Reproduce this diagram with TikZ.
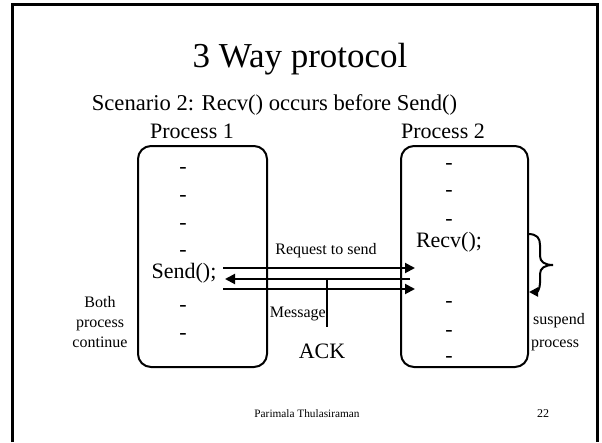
\documentclass[tikz,border=0pt]{standalone}
\usepackage{fontspec}
\setmainfont{Liberation Serif}
\usetikzlibrary{arrows.meta}
\begin{document}
\begin{tikzpicture}[x=1pt,y=-1pt,
  big/.style={inner sep=0pt, font=\fontsize{22}{26}\selectfont},
  dsh/.style={inner sep=0pt, anchor=base, font=\fontsize{22}{26}\selectfont},
  small/.style={inner sep=0pt, anchor=base, font=\fontsize{16}{20}\selectfont},
  proc/.style={draw, line width=2pt, rounded corners=13pt, inner sep=0pt},
  msg/.style={line width=2pt, -{Triangle[length=10pt,width=10pt]}},
  plain/.style={line width=2pt},
]
\useasboundingbox (0,0) rectangle (602,442);
% frame
\draw[line width=3pt] (12,442) -- (12,4) -- (597,4) -- (597,442);

% titles
\node[inner sep=0pt, anchor=base, font=\fontsize{35}{40}\selectfont] (title) at (300,67) {3 Way protocol};
\node[inner sep=0pt, anchor=base, font=\fontsize{22.6}{26}\selectfont] (scen) at (274.5,110) {Scenario 2: Recv() occurs before Send()};
\node[big, anchor=base] (h1) at (192,138) {Process 1};
\node[big, anchor=base] (h2) at (443,138) {Process 2};

% process boxes
\node[proc, minimum width=129pt, minimum height=221pt] (p1) at (202.5,256.5) {};
\node[proc, minimum width=127pt, minimum height=221pt] (p2) at (464.5,256.5) {};

% process 1 contents
\node[dsh] (a1) at (183,173) {-};
\node[dsh] (a2) at (183,201) {-};
\node[dsh] (a3) at (183,229) {-};
\node[dsh] (a4) at (183,256) {-};
\node[big] (send) at (184,273) {Send();};
\node[dsh] (a5) at (183,311) {-};
\node[dsh] (a6) at (183,339) {-};

% process 2 contents
\node[dsh] (b1) at (449,169) {-};
\node[dsh] (b2) at (449,196) {-};
\node[dsh] (b3) at (449,225) {-};
\node[big] (recv) at (449,242) {Recv();};
\node[dsh] (b4) at (449,307) {-};
\node[dsh] (b5) at (449,336) {-};
\node[dsh] (b6) at (449,362) {-};

% messages
\coordinate (s1) at (223,268);
\coordinate (r1) at (415,268);
\coordinate (r2) at (410,279);
\coordinate (s2) at (225,279);
\coordinate (s3) at (223,289);
\coordinate (r3) at (415,289);
\draw[msg] (s1) -- (r1);
\draw[msg] (r2) -- (s2);
\draw[msg] (s3) -- (r3);
\coordinate (ackTop) at (327,279);
\coordinate (ackBot) at (327,327);
\draw[plain] (ackTop) -- (ackBot);

\node[small] (req) at (326,254) {Request to send};
\node[small, anchor=base east] (mess) at (326,317) {Message};
\node[big, anchor=base] (ack) at (322,358) {ACK};

% brace with arrow
\coordinate (bt) at (528,234);
\coordinate (bb) at (529,292);
\draw[line width=2pt, -{Triangle[length=9pt,width=9pt]}] (bt) .. controls (537,234) and (540,238) .. (540,245) -- (540,256) .. controls (540,262) and (545,265) .. (553,265) .. controls (545,265) and (540,268) .. (540,274) -- (540,283) .. controls (540,289) and (537,292) .. (bb);

\node[small] (susp) at (559,324) {suspend};
\node[small] (susp2) at (555,347) {process};

\node[small] (both) at (100,307) {Both};
\node[small] (both2) at (100,327) {process};
\node[small] (both3) at (100,347) {continue};

% footer
\node[inner sep=0pt, anchor=base, font=\fontsize{11.3}{13}\selectfont] (auth) at (307,417) {Parimala Thulasiraman};
\node[inner sep=0pt, anchor=base, font=\fontsize{12}{14}\selectfont] (num) at (543,417) {22};
\end{tikzpicture}
\end{document}
